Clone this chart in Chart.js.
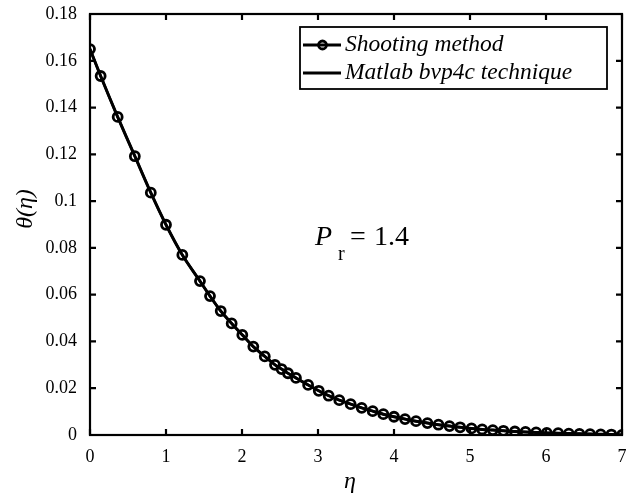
<!DOCTYPE html>
<html>
<head>
<meta charset="utf-8">
<script src="https://cdn.jsdelivr.net/npm/chart.js@4.4.0/dist/chart.umd.min.js"></script>
<style>
html,body{margin:0;padding:0;background:#fff;}
#wrap{position:relative;width:635px;height:498px;}
</style>
</head>
<body>
<div id="wrap"><canvas id="c" width="635" height="498"></canvas></div>
<script>
// ---- data ----
const eta = [0, 0.14, 0.364, 0.59, 0.80, 1.0, 1.215, 1.447, 1.579, 1.72, 1.864, 2.004, 2.149, 2.30, 2.434, 2.52, 2.605, 2.71, 2.87, 3.01, 3.14, 3.28, 3.43, 3.575, 3.72, 3.86, 4.0, 4.145, 4.29, 4.44, 4.585, 4.73, 4.87, 5.02, 5.16, 5.30, 5.44, 5.59, 5.73, 5.87, 6.01, 6.16, 6.30, 6.44, 6.58, 6.72, 6.86, 7.0];
const thetaShooting = [0.165, 0.1535, 0.136, 0.1192, 0.1036, 0.0899, 0.077, 0.0658, 0.0594, 0.053, 0.0477, 0.0428, 0.0378, 0.0336, 0.0300, 0.0282, 0.0264, 0.0244, 0.0214, 0.0189, 0.0168, 0.0149, 0.0132, 0.0116, 0.0102, 0.0089, 0.0078, 0.0068, 0.0059, 0.0051, 0.0044, 0.0038, 0.0033, 0.0028, 0.0024, 0.0021, 0.0018, 0.0015, 0.0013, 0.0011, 0.0009, 0.0008, 0.0006, 0.0005, 0.0004, 0.0003, 0.0002, 0.0];
const thetaBvp4c = [0.165, 0.1535, 0.136, 0.1192, 0.1036, 0.0899, 0.077, 0.0658, 0.0594, 0.053, 0.0477, 0.0428, 0.0378, 0.0336, 0.0300, 0.0282, 0.0264, 0.0244, 0.0214, 0.0189, 0.0168, 0.0149, 0.0132, 0.0116, 0.0102, 0.0089, 0.0078, 0.0068, 0.0059, 0.0051, 0.0044, 0.0038, 0.0033, 0.0028, 0.0024, 0.0021, 0.0018, 0.0015, 0.0013, 0.0011, 0.0009, 0.0008, 0.0006, 0.0005, 0.0004, 0.0003, 0.0002, 0.0];
const xTicks = [0, 1, 2, 3, 4, 5, 6, 7];
const yTicks = [0, 0.02, 0.04, 0.06, 0.08, 0.1, 0.12, 0.14, 0.16, 0.18];
const yTickLabels = ['0', '0.02', '0.04', '0.06', '0.08', '0.1', '0.12', '0.14', '0.16', '0.18'];
const seriesNames = ['Shooting method', 'Matlab bvp4c technique'];

const SERIF = '"Liberation Serif", "DejaVu Serif", serif';

const framePlugin = {
  id: 'frame',
  afterDraw(chart) {
    const ctx = chart.ctx;
    const a = chart.chartArea;
    const xs = chart.scales.x, ys = chart.scales.y;
    ctx.save();
    ctx.strokeStyle = '#000';
    ctx.lineWidth = 2.2;
    ctx.strokeRect(a.left, a.top, a.right - a.left, a.bottom - a.top);
    const tl = 6;
    ctx.beginPath();
    xTicks.forEach(v => {
      const px = xs.getPixelForValue(v);
      ctx.moveTo(px, a.bottom); ctx.lineTo(px, a.bottom - tl);
      ctx.moveTo(px, a.top); ctx.lineTo(px, a.top + tl);
    });
    yTicks.forEach(v => {
      const py = ys.getPixelForValue(v);
      ctx.moveTo(a.left, py); ctx.lineTo(a.left + tl, py);
      ctx.moveTo(a.right, py); ctx.lineTo(a.right - tl, py);
    });
    ctx.stroke();

    // axis titles
    ctx.fillStyle = '#000';
    ctx.font = 'italic 24px ' + SERIF;
    ctx.textAlign = 'center';
    ctx.textBaseline = 'middle';
    ctx.fillText('\u03B7', 350, 482);
    ctx.save();
    ctx.translate(26, 209);
    ctx.rotate(-Math.PI / 2);
    ctx.fillText('\u03B8(\u03B7)', 0, 0);
    ctx.restore();

    // annotation P_r = 1.4
    ctx.textAlign = 'left';
    ctx.textBaseline = 'alphabetic';
    ctx.font = 'italic 28px ' + SERIF;
    ctx.fillText('P', 315, 245);
    ctx.font = '20px ' + SERIF;
    ctx.fillText('r', 338, 260);
    ctx.font = '28px ' + SERIF;
    ctx.fillText('=', 350, 245);
    ctx.fillText('1.4', 374, 245);

    // legend
    const lx = 300, ly = 27, lw = 307, lh = 62;
    ctx.fillStyle = '#fff';
    ctx.fillRect(lx, ly, lw, lh);
    ctx.lineWidth = 1.8;
    ctx.strokeRect(lx, ly, lw, lh);
    ctx.lineWidth = 2.8;
    ctx.beginPath();
    ctx.moveTo(303, 45); ctx.lineTo(341, 45);
    ctx.moveTo(303, 73); ctx.lineTo(341, 73);
    ctx.stroke();
    ctx.lineWidth = 2.8;
    ctx.beginPath();
    ctx.arc(322.5, 45, 4, 0, Math.PI * 2);
    ctx.stroke();
    ctx.fillStyle = '#000';
    ctx.font = 'italic 23.5px ' + SERIF;
    ctx.textBaseline = 'middle';
    ctx.fillText(seriesNames[0], 345, 45);
    ctx.fillText(seriesNames[1], 345, 73);
    ctx.restore();
  }
};

new Chart(document.getElementById('c'), {
  type: 'scatter',
  data: {
    datasets: [
      {
        label: seriesNames[1],
        data: eta.map((x, i) => ({x: x, y: thetaBvp4c[i]})),
        showLine: true,
        borderColor: '#000',
        borderWidth: 3,
        pointRadius: 0,
        tension: 0.3
      },
      {
        label: seriesNames[0],
        data: eta.map((x, i) => ({x: x, y: thetaShooting[i]})),
        showLine: true,
        borderColor: '#000',
        borderWidth: 2.5,
        pointRadius: 4.5,
        pointBorderWidth: 2.8,
        pointBackgroundColor: 'rgba(0,0,0,0)',
        pointBorderColor: '#000',
        tension: 0.3
      }
    ]
  },
  options: {
    responsive: false,
    animation: false,
    devicePixelRatio: 1,
    layout: {padding: {top: 14, right: 13, left: 0, bottom: 0}},
    plugins: {legend: {display: false}, tooltip: {enabled: false}},
    scales: {
      x: {
        type: 'linear', min: 0, max: 7,
        grid: {display: false, drawTicks: false},
        border: {display: false},
        afterBuildTicks: s => { s.ticks = xTicks.map(v => ({value: v})); },
        afterFit: s => { s.height = 63; s.paddingLeft = 0; s.paddingRight = 0; },
        ticks: {
          color: '#000', font: {family: SERIF, size: 18}, padding: 11,
          maxRotation: 0, autoSkip: false,
          callback: v => String(v)
        }
      },
      y: {
        type: 'linear', min: 0, max: 0.18,
        grid: {display: false, drawTicks: false},
        border: {display: false},
        afterBuildTicks: s => { s.ticks = yTicks.map(v => ({value: v})); },
        afterFit: s => { s.width = 90; s.paddingTop = 0; s.paddingBottom = 0; },
        ticks: {
          color: '#000', font: {family: SERIF, size: 18}, padding: 13,
          autoSkip: false,
          callback: (v) => { const i = yTicks.findIndex(t => Math.abs(t - v) < 1e-9); return i >= 0 ? yTickLabels[i] : ''; }
        }
      }
    }
  },
  plugins: [framePlugin]
});
</script>
</body>
</html>
